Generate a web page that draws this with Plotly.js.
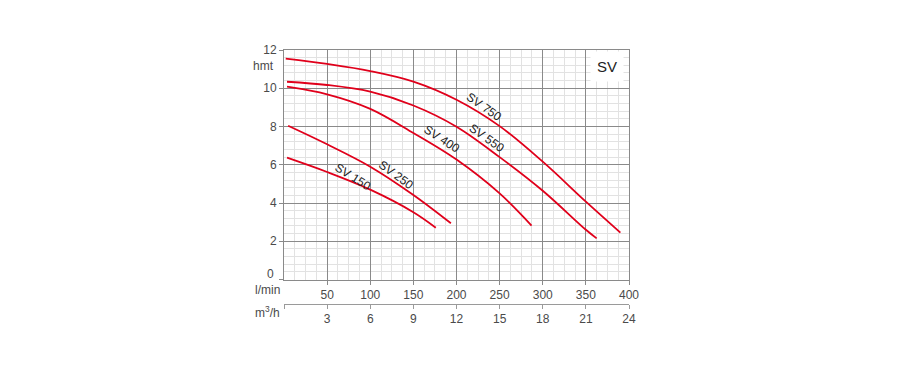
<!DOCTYPE html>
<html>
<head>
<meta charset="utf-8">
<script src="https://cdn.plot.ly/plotly-3.0.1.min.js"></script>
<style>
  html, body { margin: 0; padding: 0; background: #ffffff; }
  #chart { width: 899px; height: 366px; }
</style>
</head>
<body>
<div id="chart"></div>
<script>
// ---- data (flow in l/min, head in m) ----
var seriesNames = ["SV 150", "SV 250", "SV 400", "SV 550", "SV 750"];

var sv150Flow = [3.5, 50, 100, 150, 176];
var sv150Head = [6.37, 5.62, 4.7, 3.52, 2.71];

var sv250Flow = [4.8, 50, 100, 150, 193.5];
var sv250Head = [8.04, 7.07, 5.9, 4.42, 2.94];

var sv400Flow = [3.5, 50, 100, 150, 200, 250, 287];
var sv400Head = [10.08, 9.68, 8.92, 7.66, 6.27, 4.5, 2.82];

var sv550Flow = [3.5, 50, 100, 150, 200, 250, 300, 350, 362.5];
var sv550Head = [10.34, 10.17, 9.82, 9.1, 7.99, 6.4, 4.64, 2.6, 2.15];

var sv750Flow = [2, 50, 100, 150, 200, 250, 300, 350, 390];
var sv750Head = [11.55, 11.27, 10.9, 10.35, 9.4, 8.02, 6.16, 4.07, 2.45];

var flowTicks = [50, 100, 150, 200, 250, 300, 350, 400];
var m3hTicks = [0, 3, 6, 9, 12, 15, 18, 21, 24];
var m3hTickText = ["", "3", "6", "9", "12", "15", "18", "21", "24"];
var headTicks = [0, 2, 4, 6, 8, 10, 12];
var headTickText = ["", "2", "4", "6", "8", "10", "12"];

// label anchor points near the curves (flow, head) and rotation
var labelFlow = [80, 130, 183, 235, 232];
var labelHead = [5.35, 5.45, 7.35, 7.4, 9.0];
var labelAngle = [32, 36, 33, 35, 35];

var flows = [sv150Flow, sv250Flow, sv400Flow, sv550Flow, sv750Flow];
var heads = [sv150Head, sv250Head, sv400Head, sv550Head, sv750Head];

var RED = "#e0001b";
var FONT = "Liberation Sans, Arial, Helvetica, sans-serif";
var TXT = "#4a4a4a";

var traces = [];
for (var i = 0; i < flows.length; i++) {
  traces.push({
    x: flows[i], y: heads[i], type: "scatter", mode: "lines",
    line: { color: RED, width: 1.8, shape: "spline", smoothing: 1 },
    hoverinfo: "skip", showlegend: false, name: seriesNames[i]
  });
}
// invisible trace to activate the m3/h axis
traces.push({
  x: [0, 24], y: [0, 0], xaxis: "x2", yaxis: "y", type: "scatter", mode: "lines",
  line: { width: 0, color: "rgba(0,0,0,0)" }, hoverinfo: "skip", showlegend: false
});

var annotations = [];
for (var j = 0; j < seriesNames.length; j++) {
  annotations.push({
    x: labelFlow[j], y: labelHead[j], xref: "x", yref: "y",
    text: seriesNames[j], showarrow: false, textangle: labelAngle[j],
    font: { family: FONT, size: 12, color: "#222222" }
  });
}
annotations.push({
  x: 374.5, y: 11.12, xref: "x", yref: "y", text: "SV", showarrow: false,
  font: { family: FONT, size: 15, color: "#222222" },
  bgcolor: "#ffffff", borderpad: 6
});

// side labels placed in pixels, converted to paper coords
var W = 899, H = 366, ML = 284, MR = 270, MT = 50, MB = 62;
var pw = W - ML - MR, ph = H - MT - MB;
var sideTexts = ["hmt", "0", "l/min", "m<sup>3</sup>/h"];
var sideX = [276, 276, 282, 282];
var sideY = [66, 274, 290, 312];
for (var k = 0; k < sideTexts.length; k++) {
  annotations.push({
    x: (sideX[k] - ML) / pw, y: (H - MB - sideY[k]) / ph,
    xref: "paper", yref: "paper", xanchor: "right", yanchor: "middle",
    text: sideTexts[k], showarrow: false,
    font: { family: FONT, size: 12, color: TXT }
  });
}

var layout = {
  width: W, height: H,
  margin: { l: ML, r: MR, t: MT, b: MB, pad: 0 },
  paper_bgcolor: "#ffffff", plot_bgcolor: "#ffffff",
  font: { family: FONT, size: 12, color: TXT },
  showlegend: false,
  xaxis: {
    range: [0, 400], tickvals: flowTicks, ticks: "outside", ticklen: 4,
    tickcolor: "#8a8a8a", showgrid: true, gridcolor: "#8a8a8a", gridwidth: 1,
    minor: { dtick: 12.5, showgrid: true, gridcolor: "#e2e2e2", gridwidth: 1 },
    showline: true, linecolor: "#8a8a8a", linewidth: 1, mirror: true,
    zeroline: false, tickfont: { family: FONT, size: 12, color: TXT },
    fixedrange: true
  },
  xaxis2: {
    overlaying: "x", anchor: "free", position: 0, side: "bottom",
    range: [0, 24], tickvals: m3hTicks, ticktext: m3hTickText,
    ticks: "outside", ticklen: 4, tickcolor: "#9a9a9a",
    showgrid: false, zeroline: false, showline: true, linecolor: "#9a9a9a", linewidth: 1,
    tickfont: { family: FONT, size: 12, color: TXT }, fixedrange: true
  },
  yaxis: {
    domain: [(H - MB - 279.5) / ph, 1],
    range: [0, 12], tickvals: headTicks, ticktext: headTickText,
    ticks: "outside", ticklen: 4,
    tickcolor: "#8a8a8a", showgrid: true, gridcolor: "#8a8a8a", gridwidth: 1,
    minor: { dtick: 0.4, showgrid: true, gridcolor: "#e2e2e2", gridwidth: 1 },
    showline: true, linecolor: "#8a8a8a", linewidth: 1, mirror: true,
    zeroline: false, tickfont: { family: FONT, size: 12, color: TXT },
    fixedrange: true
  },
  annotations: annotations
};

Plotly.newPlot("chart", traces, layout, { staticPlot: true, displayModeBar: false });
</script>
</body>
</html>
